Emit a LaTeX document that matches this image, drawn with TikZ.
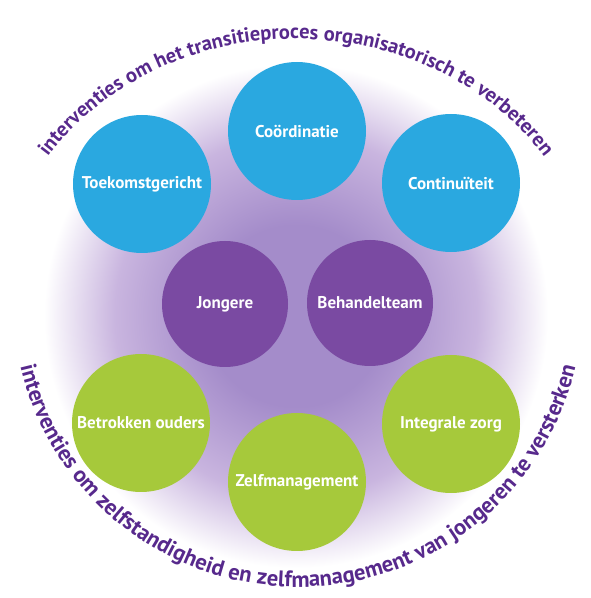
\documentclass[tikz,border=0pt]{standalone}
\usepackage{fontspec}
\setmainfont{PT Sans}
\usetikzlibrary{decorations.text}
\definecolor{bubbleblue}{HTML}{2AA8E0}
\definecolor{bubblepurple}{HTML}{7A4AA2}
\definecolor{bubblegreen}{HTML}{A6C93B}
\definecolor{arcpurple}{HTML}{57298C}
\definecolor{glowcore}{HTML}{A48CCA}
\definecolor{glowmid}{HTML}{C9B5DF}
\pgfdeclareradialshading{glow}{\pgfpoint{0bp}{0bp}}{color(0bp)=(glowcore); color(9bp)=(glowcore); color(18bp)=(glowmid); color(25bp)=(white); color(50bp)=(white)}
\newcommand\arcfmt{\fontsize{20.5}{20.5}\selectfont\bfseries\color{arcpurple}}
\newcommand\arcfmtb{\fontsize{22.5}{22.5}\selectfont\bfseries\color{arcpurple}}
\begin{document}
\begin{tikzpicture}[x=1pt,y=1pt,
  bubble/.style={circle, inner sep=0pt, font=\fontsize{17}{17}\selectfont\bfseries, text=white},
  outerbubble/.style={bubble, minimum size=138pt},
  innerbubble/.style={bubble, minimum size=126pt, fill=bubblepurple},
  bluebubble/.style={outerbubble, fill=bubbleblue},
  greenbubble/.style={outerbubble, fill=bubblegreen}]
\useasboundingbox (0,0) rectangle (590,598);
\shade[shading=glow] (296,282) circle (252pt);
% outer ring, top (blue)
\node[bluebubble] (coord) at (297,467) {Coördinatie};
\node[bluebubble] (toek) at (142,414) {Toekomstgericht};
\node[bluebubble] (cont) at (451,415) {Continuïteit};
% inner (purple)
\node[innerbubble] (jong) at (225,294) {Jongere};
\node[innerbubble] (beh) at (370,295) {Behandelteam};
% outer ring, bottom (green)
\node[greenbubble] (betr) at (141,175) {Betrokken ouders};
\node[greenbubble] (zelf) at (297,116) {Zelfmanagement};
\node[greenbubble] (integ) at (451,174) {Integrale zorg};
% arc texts
\path[decorate, decoration={text along path, text align=center,
  text={|\arcfmt|interventies om het transitieproces organisatorisch te verbeteren}}]
  (296,295) ++(165:298pt and 264pt) arc[start angle=165, end angle=15, x radius=298pt, y radius=264pt];
\path[decorate, decoration={text along path, text align=center,
  text={|\arcfmtb|interventies om zelfstandigheid en zelfmanagement van jongeren te versterken}}]
  (298,296) ++(182:285pt) arc[start angle=182, end angle=358, radius=285pt];
\end{tikzpicture}
\end{document}
